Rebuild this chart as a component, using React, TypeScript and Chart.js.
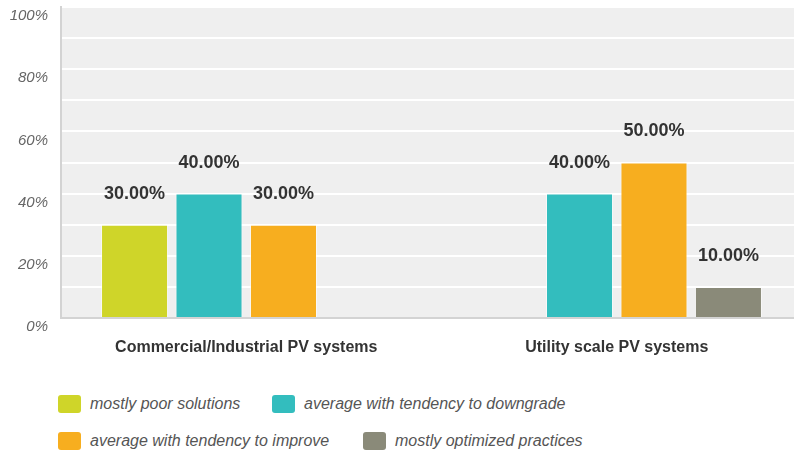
import React, { useEffect, useRef } from "react";
import { Chart, registerables } from "chart.js";

Chart.register(...registerables);

const categories = ["Commercial/Industrial PV systems", "Utility scale PV systems"];
const seriesNames = [
  "mostly poor solutions",
  "average with tendency to downgrade",
  "average with tendency to improve",
  "mostly optimized practices",
];
const poorValues = [30, null];
const downgradeValues = [40, 40];
const improveValues = [30, 50];
const optimizedValues = [null, 10];
const seriesColors = ["#cfd529", "#33bdbe", "#f7ae1f", "#8a8a79"];
const yTicks = [0, 20, 40, 60, 80, 100];

const FONT = '"Liberation Sans", Arial, sans-serif';

const bgPlugin = {
  id: "plotBg",
  beforeDraw(chart: any) {
    const { ctx, chartArea } = chart;
    ctx.save();
    ctx.fillStyle = "#efefef";
    ctx.fillRect(chartArea.left, chartArea.top, chartArea.right - chartArea.left, chartArea.bottom - chartArea.top);
    ctx.restore();
  },
};

const labelPlugin = {
  id: "valueLabels",
  afterDatasetsDraw(chart: any) {
    const { ctx } = chart;
    ctx.save();
    ctx.font = `bold 18px ${FONT}`;
    ctx.fillStyle = "#333333";
    ctx.textAlign = "center";
    ctx.textBaseline = "middle";
    chart.data.datasets.forEach((ds: any, di: number) => {
      const meta = chart.getDatasetMeta(di);
      meta.data.forEach((bar: any, i: number) => {
        const v = ds.data[i];
        if (v === null || v === undefined) return;
        ctx.fillText(v.toFixed(2) + "%", bar.x, bar.y - 31);
      });
    });
    ctx.restore();
  },
};

const legendPos = [
  { left: 58, top: 395 },
  { left: 272, top: 395 },
  { left: 58, top: 432 },
  { left: 363, top: 432 },
];

export default function App() {
  const ref = useRef<HTMLCanvasElement>(null);
  useEffect(() => {
    const values = [poorValues, downgradeValues, improveValues, optimizedValues];
    const chart = new Chart(ref.current!, {
      type: "bar",
      data: {
        labels: categories,
        datasets: seriesNames.map((name, i) => ({
          label: name,
          data: values[i],
          backgroundColor: seriesColors[i],
          borderColor: "rgba(255,255,255,0.55)",
          borderWidth: 1,
          categoryPercentage: 0.804,
          barPercentage: 0.9,
        })),
      },
      options: {
        animation: false,
        responsive: false,
        layout: { padding: { top: 7, left: 10, right: 0, bottom: 0 } },
        plugins: { legend: { display: false }, tooltip: { enabled: false } },
        scales: {
          x: {
            grid: { display: false, drawTicks: false },
            border: { display: true, color: "#d3d3d3", width: 2 },
            ticks: {
              padding: 20,
              color: "#333333",
              font: { family: FONT, size: 16, weight: "bold" },
            },
            afterFit(scale: any) {
              scale.height = 52;
              scale.paddingLeft = 0;
              scale.paddingRight = 0;
            },
          },
          y: {
            min: 0,
            max: 100,
            ticks: {
              stepSize: 10,
              padding: 13,
              labelOffset: 9,
              color: "#666666",
              font: { family: FONT, size: 15, style: "italic" },
              callback: (v: any) => (yTicks.includes(Number(v)) ? v + "%" : ""),
            },
            grid: {
              color: (c: any) => (c.tick && c.tick.value === 0 ? "rgba(0,0,0,0)" : "#ffffff"),
              lineWidth: 2,
              drawTicks: false,
            },
            border: { display: true, color: "#d3d3d3", width: 2 },
            afterFit(scale: any) {
              scale.width = 51;
              scale.paddingTop = 0;
              scale.paddingBottom = 0;
            },
          },
        },
      },
      plugins: [bgPlugin, labelPlugin],
    } as any);
    return () => chart.destroy();
  }, []);

  return (
    <div style={{ position: "absolute", left: 0, top: 0, width: 794, height: 453, overflow: "hidden", background: "#fff" }}>
      <canvas ref={ref} width={802} height={370} style={{ position: "absolute", left: 0, top: 0, width: 802, height: 370 }} />
      {seriesNames.map((name, i) => (
        <div
          key={name}
          style={{
            position: "absolute",
            left: legendPos[i].left,
            top: legendPos[i].top,
            height: 18,
            display: "flex",
            alignItems: "center",
            whiteSpace: "nowrap",
          }}
        >
          <span
            style={{
              display: "inline-block",
              width: 23,
              height: 18,
              borderRadius: 3,
              background: seriesColors[i],
              marginRight: 9,
            }}
          />
          <span style={{ fontFamily: FONT, fontStyle: "italic", fontSize: 16, color: "#555555" }}>{name}</span>
        </div>
      ))}
    </div>
  );
}
